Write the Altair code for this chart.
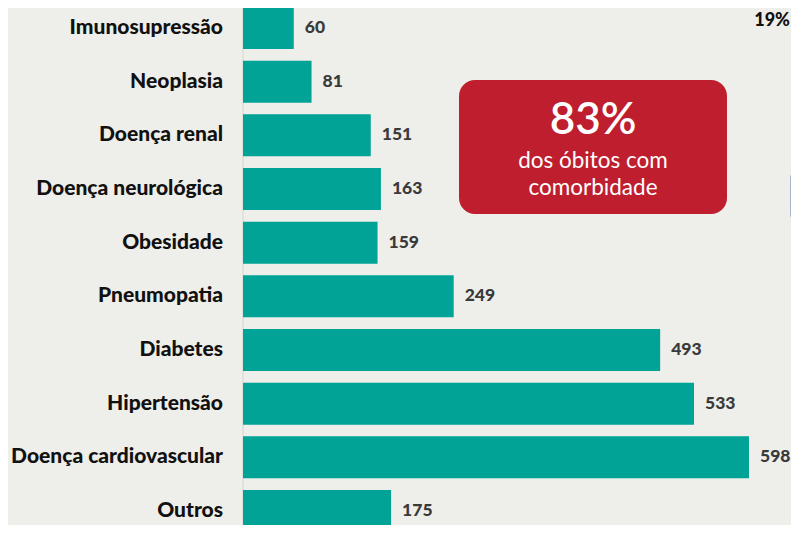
import altair as alt
import pandas as pd

categories = ["Imunosupressão", "Neoplasia", "Doença renal", "Doença neurológica",
              "Obesidade", "Pneumopatia", "Diabetes", "Hipertensão",
              "Doença cardiovascular", "Outros"]
values = [60, 81, 151, 163, 159, 249, 493, 533, 598, 175]

headline = "83%"
sub_lines = ["dos óbitos com", "comorbidade"]
corner_label = "19%"

df = pd.DataFrame({"cat": categories, "val": values, "idx": list(range(len(categories)))})

# page is 799x533 with an 8px body margin -> chart area 783x517
W, H = 783, 517
xs = alt.Scale(domain=[0, 598], range=[235, 741])
ys = alt.Scale(domain=[0, 9], range=[15, 508])

base = alt.Chart(df)

axis_rule = alt.Chart(pd.DataFrame({"x": [0]})).mark_rule(color="#d6d6d0", strokeWidth=1).encode(
    x=alt.X("x:Q", scale=xs, axis=None),
    y=alt.value(0), y2=alt.value(H)
)

bars = base.mark_bar(orient="horizontal", size=42, color="#00a396", clip=True).encode(
    x=alt.X("val:Q", scale=xs, axis=None),
    x2=alt.datum(0),
    y=alt.Y("idx:Q", scale=ys, axis=None),
)

labels = base.mark_text(align="right", baseline="middle", font="Lato",
                        fontSize=21, fontWeight=900, color="#111111").encode(
    x=alt.value(215),
    y=alt.Y("idx:Q", scale=ys, axis=None),
    text="cat:N",
)

vals = base.mark_text(align="left", baseline="middle", dx=11, font="Lato",
                      fontSize=17.5, fontWeight=900, color="#3a3a3a").encode(
    x=alt.X("val:Q", scale=xs, axis=None),
    y=alt.Y("idx:Q", scale=ys, axis=None),
    text="val:Q",
)

one = pd.DataFrame({"k": [0]})
red_box = alt.Chart(one).mark_rect(color="#be1e2d", cornerRadius=16).encode(
    x=alt.value(451), x2=alt.value(719), y=alt.value(72), y2=alt.value(206)
)
big = alt.Chart(one).mark_text(text=headline, font="Lato", fontSize=44, fontWeight=600, color="white",
                               align="center", baseline="alphabetic").encode(
    x=alt.value(585), y=alt.value(126)
)
sub1 = alt.Chart(one).mark_text(text=sub_lines[0], font="Lato", fontSize=22.5, color="white",
                                align="center", baseline="middle").encode(
    x=alt.value(585), y=alt.value(153)
)
sub2 = alt.Chart(one).mark_text(text=sub_lines[1], font="Lato", fontSize=22.5, color="white",
                                align="center", baseline="middle").encode(
    x=alt.value(585), y=alt.value(180)
)
gray_box = alt.Chart(one).mark_rect(color="#a8b4cb", cornerRadius=8).encode(
    x=alt.value(782), x2=alt.value(830), y=alt.value(162), y2=alt.value(214)
)
corner_txt = alt.Chart(one).mark_text(text=corner_label, font="Lato", fontSize=18, fontWeight=900,
                                      color="#111111", align="right", baseline="middle").encode(
    x=alt.value(782), y=alt.value(13)
)

chart = alt.layer(axis_rule, bars, labels, vals, red_box, big, sub1, sub2, gray_box, corner_txt).properties(
    width=W, height=H,
    background="#eeeeea",
    padding=0,
    autosize=alt.AutoSizeParams(type="none"),
).configure_view(stroke=None)

chart.save("out.html", embed_options={"renderer": "svg", "actions": False})
